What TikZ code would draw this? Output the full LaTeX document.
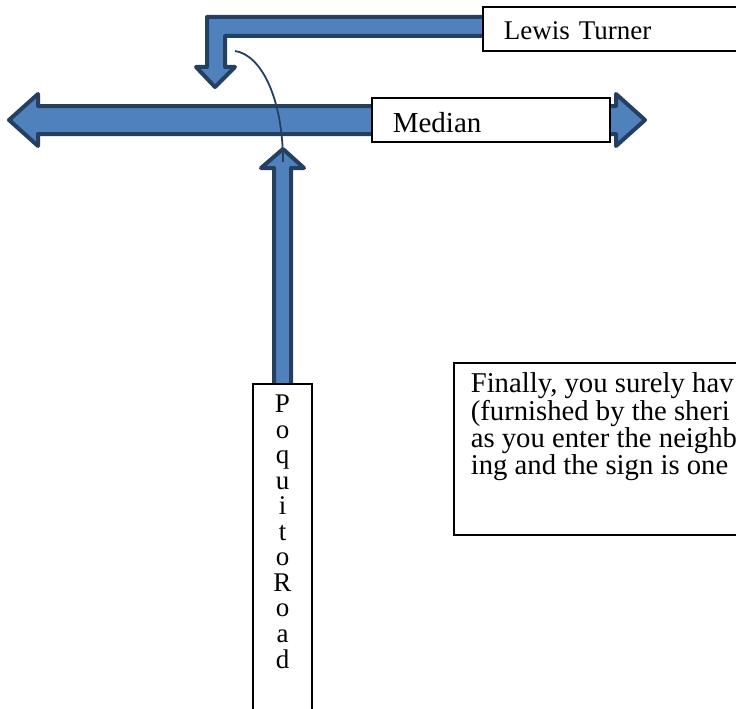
\documentclass[tikz,border=0pt]{standalone}
\usepackage{fontspec}
\setmainfont{Liberation Serif}
\definecolor{roadblue}{HTML}{4F81BD}
\definecolor{roadedge}{HTML}{243F60}

\begin{document}
\begin{tikzpicture}[x=1pt, y=-1pt,
  road/.style={fill=roadblue, draw=roadedge, line width=4pt, line join=round},
  sign/.style={draw, line width=1.6pt, fill=white, inner ysep=0pt, font=\fontsize{27}{25}\selectfont}]

\useasboundingbox (0,0) rectangle (736,709);
\clip (0,0) rectangle (736,709);

% turn arrow
\draw[road] (490,17) -- (207,17) -- (207,67) -- (196,67) -- (215,87) -- (235,67) -- (225,67) -- (225,36) -- (490,36) -- cycle;
% median arrow
\draw[road] (9,120) -- (38,94) -- (38,106) -- (616,106) -- (616,94) -- (645,120) -- (616,146) -- (616,134) -- (38,134) -- (38,146) -- cycle;
% road arrow
\draw[road] (274,390) -- (274,168) -- (261,168) -- (283,149) -- (304,168) -- (291,168) -- (291,390) -- cycle;

\node[sign, anchor=north west, inner xsep=21pt, text width=250pt, text height=33pt, text depth=11pt] (lewis) at (482,6) {Lewis Turner};
\node[sign, anchor=north west, inner xsep=21pt, text width=196pt, text height=35pt, text depth=9pt, font=\fontsize{29}{25}\selectfont] (median) at (371,97) {Median};
\node[sign, anchor=north, inner xsep=0pt, minimum width=59pt, text height=29pt, text depth=320pt, font=\fontsize{27}{25.5}\selectfont] (poquito) at (282.5,383)
  {\begin{tabular}[t]{@{}c@{}}P\\o\\q\\u\\i\\t\\o\\R\\o\\a\\d\end{tabular}};
\node[sign, anchor=north west, inner xsep=17pt, text height=30pt, text depth=142pt, font=\fontsize{28.7}{24.3}\selectfont] (note) at (453,362)
  {\begin{tabular}[t]{@{}p{300pt}@{}}Finally, you surely hav\\(furnished by the sheri\\as you enter the neighb\\ing and the sign is one\end{tabular}};

\coordinate (hook) at (235,51);
\coordinate (turn) at (283,162);
\draw[roadedge, line width=1.8pt] (hook) .. controls (262,55) and (283,100) .. (turn);
\end{tikzpicture}
\end{document}
